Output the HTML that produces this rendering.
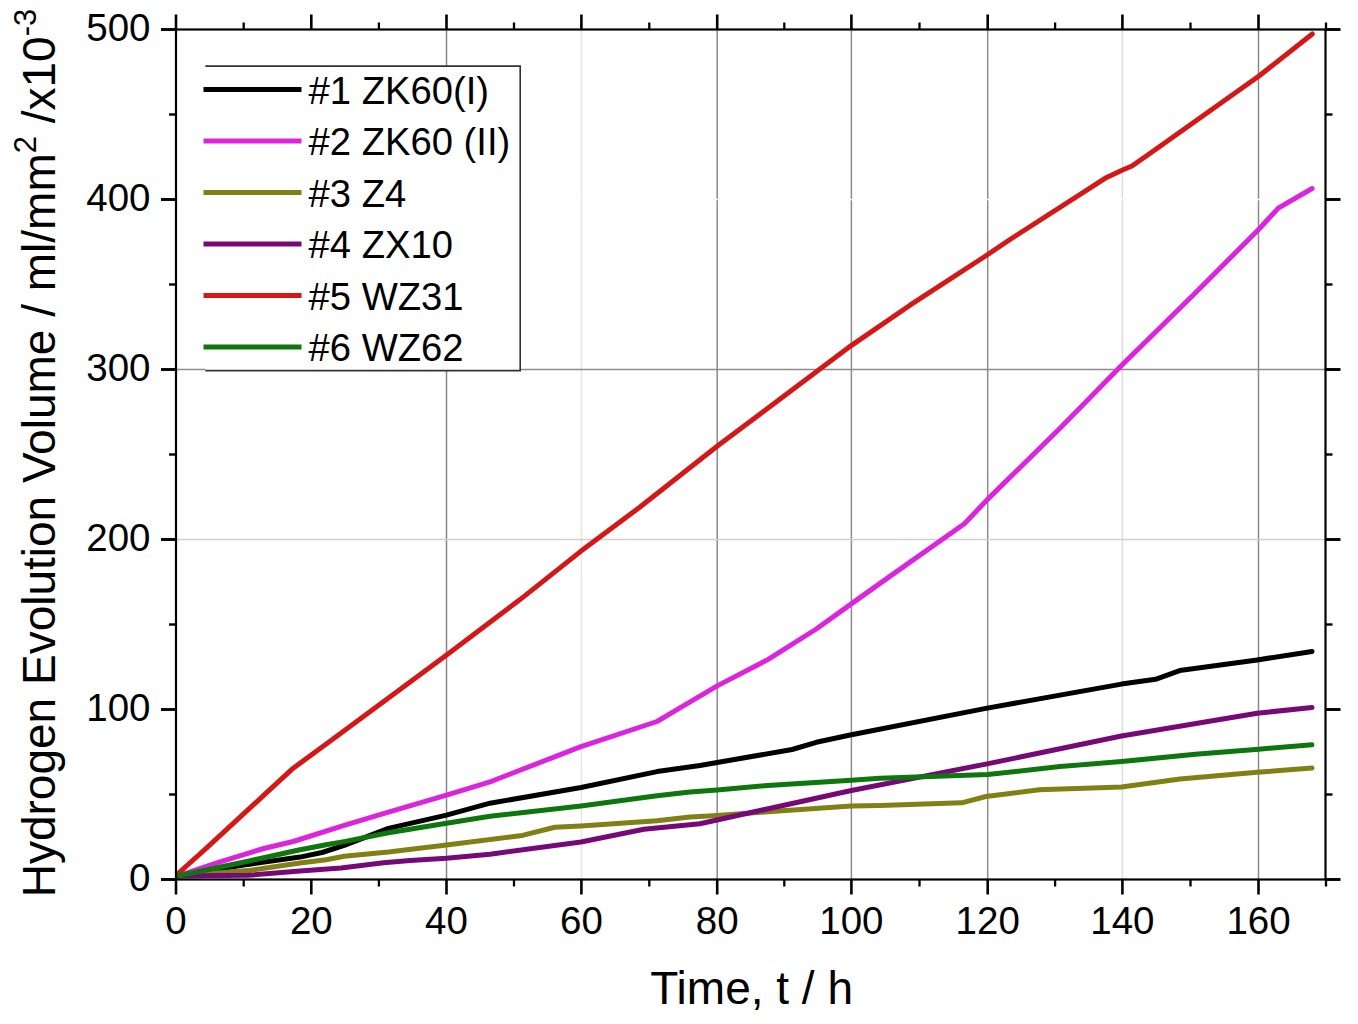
<!DOCTYPE html>
<html><head><meta charset="utf-8"><style>
html,body{margin:0;padding:0;background:#fff;}
svg{display:block;}
text{font-family:"Liberation Sans",sans-serif;fill:#000;}
</style></head><body>
<svg width="1358" height="1024" viewBox="0 0 1358 1024">
<rect width="1358" height="1024" fill="#fff"/>
<line x1="446.5" y1="29.5" x2="446.5" y2="879.5" stroke="#868686" stroke-width="1.5"/>
<line x1="581.4" y1="29.5" x2="581.4" y2="879.5" stroke="#e6e6e6" stroke-width="1.5"/>
<line x1="717.2" y1="29.5" x2="717.2" y2="879.5" stroke="#8a8a8a" stroke-width="1.5"/>
<line x1="851.4" y1="29.5" x2="851.4" y2="879.5" stroke="#8a8a8a" stroke-width="1.5"/>
<line x1="987.7" y1="29.5" x2="987.7" y2="879.5" stroke="#8c8c8c" stroke-width="1.5"/>
<line x1="1122.4" y1="29.5" x2="1122.4" y2="879.5" stroke="#dcdcdc" stroke-width="1.5"/>
<line x1="1258.5" y1="29.5" x2="1258.5" y2="879.5" stroke="#8a8a8a" stroke-width="1.5"/>
<line x1="176" y1="539.5" x2="1325.5" y2="539.5" stroke="#d0d0d0" stroke-width="1.5"/>
<line x1="176" y1="369.5" x2="1325.5" y2="369.5" stroke="#8c8c8c" stroke-width="1.5"/>
<line x1="176" y1="199.5" x2="1325.5" y2="199.5" stroke="#fbfbfb" stroke-width="1.5"/>
<rect x="205.3" y="66.1" width="314.90000000000003" height="304.5" fill="#fff"/>
<polyline points="205.3,66.1 520.2,66.1 520.2,370.6 205.3,370.6" fill="none" stroke="#333" stroke-width="1.6"/>
<polyline points="177.5,876.0 248.0,864.4 300.0,857.1 322.0,852.5 344.2,845.3 388.4,828.4 446.5,815.1 490.0,803.2 581.0,787.5 657.0,771.6 700.0,765.5 792.1,749.5 816.3,742.3 850.2,735.0 985.9,708.4 1121.5,684.1 1155.5,679.3 1179.7,670.6 1257.2,659.9 1312.0,651.5" fill="none" stroke="#000000" stroke-width="5" stroke-linejoin="round" stroke-linecap="round"/>
<polyline points="177.5,876.0 216.9,862.8 263.8,848.5 293.2,841.5 344.2,825.4 388.4,812.2 446.5,795.2 490.0,781.8 500.0,778.0 581.0,746.6 657.0,721.5 680.0,707.9 717.2,685.9 767.8,659.6 816.3,629.0 851.3,603.9 880.0,583.4 964.4,523.8 987.8,499.1 1060.0,428.3 1121.5,365.6 1195.3,293.0 1258.6,229.5 1278.3,208.1 1312.1,188.5" fill="none" stroke="#dc24dc" stroke-width="5" stroke-linejoin="round" stroke-linecap="round"/>
<polyline points="177.5,876.0 248.0,870.6 300.0,863.0 326.2,859.7 344.2,856.3 388.4,852.0 446.5,845.0 522.4,835.4 554.8,827.3 581.0,826.0 657.0,820.8 690.0,817.0 717.2,815.5 767.8,811.8 851.3,806.0 880.0,805.4 961.7,802.8 985.9,796.5 1039.2,789.8 1121.5,786.9 1180.0,779.0 1257.2,772.3 1312.0,768.0" fill="none" stroke="#808014" stroke-width="5" stroke-linejoin="round" stroke-linecap="round"/>
<polyline points="177.5,876.0 248.0,875.3 300.0,871.0 341.0,868.0 383.6,862.8 410.0,860.6 446.5,858.2 490.0,854.2 581.0,842.0 643.9,829.3 700.0,823.7 850.2,790.7 985.9,764.1 1121.5,736.0 1257.2,713.2 1312.0,707.5" fill="none" stroke="#770877" stroke-width="5" stroke-linejoin="round" stroke-linecap="round"/>
<polyline points="177.5,874.0 205.3,849.1 234.6,822.1 263.9,795.2 293.2,768.2 328.3,742.6 446.6,655.0 520.0,599.6 580.4,551.6 640.0,507.0 717.1,446.2 851.2,345.6 910.0,305.2 982.5,258.0 1010.0,239.5 1106.6,177.4 1122.6,170.0 1132.0,166.0 1152.0,152.0 1259.0,76.0 1312.3,34.0" fill="none" stroke="#d41818" stroke-width="5" stroke-linejoin="round" stroke-linecap="round"/>
<polyline points="177.5,876.0 248.0,861.2 300.0,849.7 326.2,844.8 344.2,841.6 388.4,832.8 446.5,823.2 490.0,816.2 581.0,806.0 657.0,795.8 690.0,792.0 717.2,789.9 767.8,785.5 851.3,780.2 880.0,778.2 987.8,774.6 1060.0,766.6 1121.5,761.6 1195.3,754.3 1258.6,749.2 1311.9,744.8" fill="none" stroke="#0d760d" stroke-width="5" stroke-linejoin="round" stroke-linecap="round"/>
<rect x="176" y="29.5" width="1149.5" height="850" fill="none" stroke="#000" stroke-width="2.2"/>
<line x1="176.0" y1="879.5" x2="176.0" y2="894.5" stroke="#000" stroke-width="2.6"/>
<line x1="176.0" y1="29.5" x2="176.0" y2="14.5" stroke="#000" stroke-width="2.6"/>
<line x1="243.7" y1="879.5" x2="243.7" y2="886.5" stroke="#000" stroke-width="2.3"/>
<line x1="243.7" y1="29.5" x2="243.7" y2="22.5" stroke="#000" stroke-width="2.3"/>
<line x1="311.3" y1="879.5" x2="311.3" y2="894.5" stroke="#000" stroke-width="2.6"/>
<line x1="311.3" y1="29.5" x2="311.3" y2="14.5" stroke="#000" stroke-width="2.6"/>
<line x1="378.9" y1="879.5" x2="378.9" y2="886.5" stroke="#000" stroke-width="2.3"/>
<line x1="378.9" y1="29.5" x2="378.9" y2="22.5" stroke="#000" stroke-width="2.3"/>
<line x1="446.5" y1="879.5" x2="446.5" y2="894.5" stroke="#000" stroke-width="2.6"/>
<line x1="446.5" y1="29.5" x2="446.5" y2="14.5" stroke="#000" stroke-width="2.6"/>
<line x1="514.0" y1="879.5" x2="514.0" y2="886.5" stroke="#000" stroke-width="2.3"/>
<line x1="514.0" y1="29.5" x2="514.0" y2="22.5" stroke="#000" stroke-width="2.3"/>
<line x1="581.4" y1="879.5" x2="581.4" y2="894.5" stroke="#000" stroke-width="2.6"/>
<line x1="581.4" y1="29.5" x2="581.4" y2="14.5" stroke="#000" stroke-width="2.6"/>
<line x1="649.3" y1="879.5" x2="649.3" y2="886.5" stroke="#000" stroke-width="2.3"/>
<line x1="649.3" y1="29.5" x2="649.3" y2="22.5" stroke="#000" stroke-width="2.3"/>
<line x1="717.2" y1="879.5" x2="717.2" y2="894.5" stroke="#000" stroke-width="2.6"/>
<line x1="717.2" y1="29.5" x2="717.2" y2="14.5" stroke="#000" stroke-width="2.6"/>
<line x1="784.3" y1="879.5" x2="784.3" y2="886.5" stroke="#000" stroke-width="2.3"/>
<line x1="784.3" y1="29.5" x2="784.3" y2="22.5" stroke="#000" stroke-width="2.3"/>
<line x1="851.4" y1="879.5" x2="851.4" y2="894.5" stroke="#000" stroke-width="2.6"/>
<line x1="851.4" y1="29.5" x2="851.4" y2="14.5" stroke="#000" stroke-width="2.6"/>
<line x1="919.5" y1="879.5" x2="919.5" y2="886.5" stroke="#000" stroke-width="2.3"/>
<line x1="919.5" y1="29.5" x2="919.5" y2="22.5" stroke="#000" stroke-width="2.3"/>
<line x1="987.7" y1="879.5" x2="987.7" y2="894.5" stroke="#000" stroke-width="2.6"/>
<line x1="987.7" y1="29.5" x2="987.7" y2="14.5" stroke="#000" stroke-width="2.6"/>
<line x1="1055.1" y1="879.5" x2="1055.1" y2="886.5" stroke="#000" stroke-width="2.3"/>
<line x1="1055.1" y1="29.5" x2="1055.1" y2="22.5" stroke="#000" stroke-width="2.3"/>
<line x1="1122.4" y1="879.5" x2="1122.4" y2="894.5" stroke="#000" stroke-width="2.6"/>
<line x1="1122.4" y1="29.5" x2="1122.4" y2="14.5" stroke="#000" stroke-width="2.6"/>
<line x1="1190.5" y1="879.5" x2="1190.5" y2="886.5" stroke="#000" stroke-width="2.3"/>
<line x1="1190.5" y1="29.5" x2="1190.5" y2="22.5" stroke="#000" stroke-width="2.3"/>
<line x1="1258.5" y1="879.5" x2="1258.5" y2="894.5" stroke="#000" stroke-width="2.6"/>
<line x1="1258.5" y1="29.5" x2="1258.5" y2="14.5" stroke="#000" stroke-width="2.6"/>
<line x1="1326.0" y1="879.5" x2="1326.0" y2="886.5" stroke="#000" stroke-width="2.3"/>
<line x1="1326.0" y1="29.5" x2="1326.0" y2="22.5" stroke="#000" stroke-width="2.3"/>
<line x1="176" y1="879.5" x2="161" y2="879.5" stroke="#000" stroke-width="2.9"/>
<line x1="1325.5" y1="879.5" x2="1340.5" y2="879.5" stroke="#000" stroke-width="2.9"/>
<line x1="176" y1="794.5" x2="169" y2="794.5" stroke="#000" stroke-width="2.4"/>
<line x1="1325.5" y1="794.5" x2="1332.5" y2="794.5" stroke="#000" stroke-width="2.4"/>
<line x1="176" y1="709.5" x2="161" y2="709.5" stroke="#000" stroke-width="2.9"/>
<line x1="1325.5" y1="709.5" x2="1340.5" y2="709.5" stroke="#000" stroke-width="2.9"/>
<line x1="176" y1="624.5" x2="169" y2="624.5" stroke="#000" stroke-width="2.4"/>
<line x1="1325.5" y1="624.5" x2="1332.5" y2="624.5" stroke="#000" stroke-width="2.4"/>
<line x1="176" y1="539.5" x2="161" y2="539.5" stroke="#000" stroke-width="2.9"/>
<line x1="1325.5" y1="539.5" x2="1340.5" y2="539.5" stroke="#000" stroke-width="2.9"/>
<line x1="176" y1="454.5" x2="169" y2="454.5" stroke="#000" stroke-width="2.4"/>
<line x1="1325.5" y1="454.5" x2="1332.5" y2="454.5" stroke="#000" stroke-width="2.4"/>
<line x1="176" y1="369.5" x2="161" y2="369.5" stroke="#000" stroke-width="2.9"/>
<line x1="1325.5" y1="369.5" x2="1340.5" y2="369.5" stroke="#000" stroke-width="2.9"/>
<line x1="176" y1="284.5" x2="169" y2="284.5" stroke="#000" stroke-width="2.4"/>
<line x1="1325.5" y1="284.5" x2="1332.5" y2="284.5" stroke="#000" stroke-width="2.4"/>
<line x1="176" y1="199.5" x2="161" y2="199.5" stroke="#000" stroke-width="2.9"/>
<line x1="1325.5" y1="199.5" x2="1340.5" y2="199.5" stroke="#000" stroke-width="2.9"/>
<line x1="176" y1="114.5" x2="169" y2="114.5" stroke="#000" stroke-width="2.4"/>
<line x1="1325.5" y1="114.5" x2="1332.5" y2="114.5" stroke="#000" stroke-width="2.4"/>
<line x1="176" y1="29.5" x2="161" y2="29.5" stroke="#000" stroke-width="2.9"/>
<line x1="1325.5" y1="29.5" x2="1340.5" y2="29.5" stroke="#000" stroke-width="2.9"/>
<text x="176.0" y="934" font-size="38.5" text-anchor="middle">0</text>
<text x="311.3" y="934" font-size="38.5" text-anchor="middle">20</text>
<text x="446.5" y="934" font-size="38.5" text-anchor="middle">40</text>
<text x="581.4" y="934" font-size="38.5" text-anchor="middle">60</text>
<text x="717.2" y="934" font-size="38.5" text-anchor="middle">80</text>
<text x="851.4" y="934" font-size="38.5" text-anchor="middle">100</text>
<text x="987.7" y="934" font-size="38.5" text-anchor="middle">120</text>
<text x="1122.4" y="934" font-size="38.5" text-anchor="middle">140</text>
<text x="1258.5" y="934" font-size="38.5" text-anchor="middle">160</text>
<text x="150.5" y="890.5" font-size="38.5" text-anchor="end">0</text>
<text x="150.5" y="720.5" font-size="38.5" text-anchor="end">100</text>
<text x="150.5" y="550.5" font-size="38.5" text-anchor="end">200</text>
<text x="150.5" y="380.5" font-size="38.5" text-anchor="end">300</text>
<text x="150.5" y="210.5" font-size="38.5" text-anchor="end">400</text>
<text x="150.5" y="40.5" font-size="38.5" text-anchor="end">500</text>
<line x1="203.5" y1="89.6" x2="301.5" y2="89.6" stroke="#000000" stroke-width="5" stroke-linecap="butt"/>
<text x="308.6" y="103.6" font-size="38.2">#1 ZK60(I)</text>
<line x1="203.5" y1="141.1" x2="301.5" y2="141.1" stroke="#dc24dc" stroke-width="5" stroke-linecap="butt"/>
<text x="308.6" y="155.1" font-size="38.2">#2 ZK60 (II)</text>
<line x1="203.5" y1="192.6" x2="301.5" y2="192.6" stroke="#808014" stroke-width="5" stroke-linecap="butt"/>
<text x="308.6" y="206.6" font-size="38.2">#3 Z4</text>
<line x1="203.5" y1="244.1" x2="301.5" y2="244.1" stroke="#770877" stroke-width="5" stroke-linecap="butt"/>
<text x="308.6" y="258.1" font-size="38.2">#4 ZX10</text>
<line x1="203.5" y1="295.6" x2="301.5" y2="295.6" stroke="#d41818" stroke-width="5" stroke-linecap="butt"/>
<text x="308.6" y="309.6" font-size="38.2">#5 WZ31</text>
<line x1="203.5" y1="347.1" x2="301.5" y2="347.1" stroke="#0d760d" stroke-width="5" stroke-linecap="butt"/>
<text x="308.6" y="361.1" font-size="38.2">#6 WZ62</text>
<text x="751.6" y="1004.3" font-size="46" text-anchor="middle">Time, t / h</text>
<text transform="translate(54.5,453) rotate(-90)" x="0" y="0" font-size="46" text-anchor="middle">Hydrogen Evolution Volume / ml/mm<tspan font-size="31" dy="-19">2</tspan><tspan dy="19"> /x10</tspan><tspan font-size="31" dy="-19">-3</tspan></text>
</svg>
</body></html>
